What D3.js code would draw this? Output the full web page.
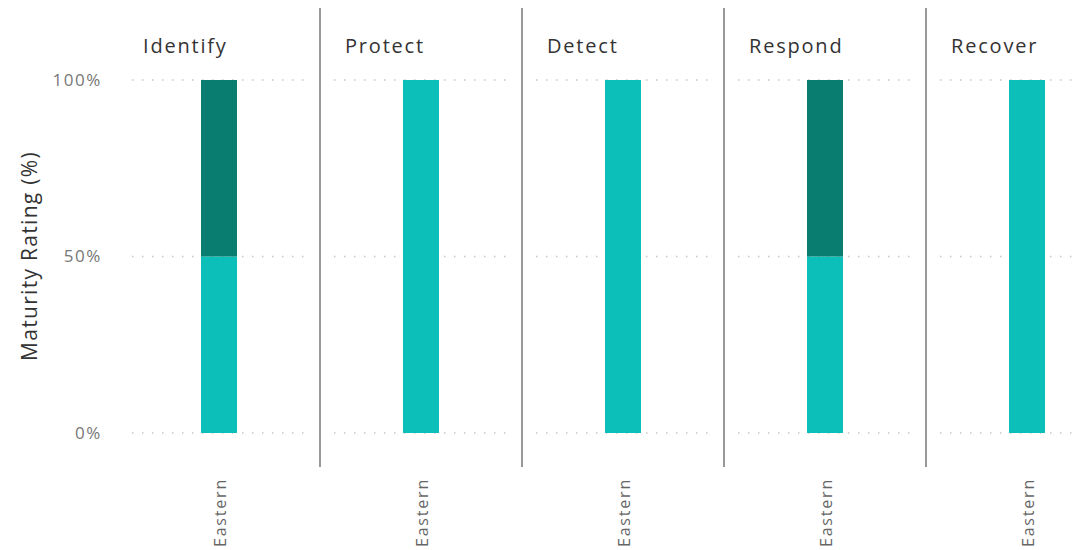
<!DOCTYPE html>
<html><head><meta charset="utf-8">
<script src="https://cdn.jsdelivr.net/npm/d3@7"></script>
<style>body{margin:0;background:#fff;}svg{display:block;font-family:"Open Sans",sans-serif;}</style>
</head><body><svg id="c" width="1076" height="550"></svg>
<script>
const panels = ["Identify","Protect","Detect","Respond","Recover"];
const categories = ["Eastern"];
const lowerValues = [0.5, 1, 1, 0.5, 1];   // light teal
const upperValues = [0.5, 0, 0, 0.5, 0];   // dark teal
const yTicks = [0, 0.5, 1];
const yTickLabels = ["0%","50%","100%"];
const colors = {lower:"#0DBFB9", upper:"#0A7D71"};

const svg = d3.select("#c");
const panelX = d3.scaleBand().domain(panels).range([118, 118 + 202*5]).padding(0);
const y = d3.scaleLinear().domain([0,1]).range([433, 80]);

// y axis labels
svg.append("g").selectAll("text").data(yTicks).join("text")
  .attr("x", 102).attr("y", d => y(d)).attr("dy","0.35em")
  .attr("text-anchor","end").attr("fill","#777").attr("font-size",17)
  .attr("letter-spacing","1.6px")
  .text((d,i)=>yTickLabels[i]);

svg.append("text").attr("transform","translate(37,256) rotate(-90)")
  .attr("text-anchor","middle").attr("fill","#333").attr("font-size",21)
  .attr("letter-spacing","1.3px")
  .text("Maturity Rating (%)");

panels.forEach((p,i)=>{
  const x0 = panelX(p), w = panelX.bandwidth();
  const g = svg.append("g");
  const xb = d3.scaleBand().domain(categories).range([x0, x0+w]).paddingInner(0).paddingOuter(0);
  // gridlines
  g.selectAll("line.grid").data(yTicks).join("line")
    .attr("x1", x0+14).attr("x2", Math.min(x0+w-14, 1072))
    .attr("y1", d=>y(d)).attr("y2", d=>y(d))
    .attr("stroke","#c8c8c8").attr("stroke-width",1.5).attr("stroke-dasharray","1.5,8.5");
  // separators
  if (i>0) g.append("line").attr("x1",x0).attr("x2",x0).attr("y1",8).attr("y2",467)
    .attr("stroke","#777").attr("stroke-width",1.5);
  // title
  g.append("text").attr("x", x0+25).attr("y", 53).attr("fill","#333").attr("font-size",20)
    .attr("letter-spacing","1.8px").text(p);
  categories.forEach(c=>{
    const cx = xb(c) + xb.bandwidth()/2;
    const bw = 36;
    const lo = lowerValues[i], up = upperValues[i];
    if (lo>0) g.append("rect").attr("x",cx-bw/2).attr("width",bw)
      .attr("y", y(lo)).attr("height", y(0)-y(lo)).attr("fill",colors.lower);
    if (up>0) g.append("rect").attr("x",cx-bw/2).attr("width",bw)
      .attr("y", y(lo+up)).attr("height", y(lo)-y(lo+up)).attr("fill",colors.upper);
    g.append("text").attr("transform",`translate(${cx+7},478) rotate(-90)`)
      .attr("text-anchor","end").attr("fill","#666").attr("font-size",16)
      .attr("letter-spacing","1.8px").text(c);
  });
});
</script></body></html>
